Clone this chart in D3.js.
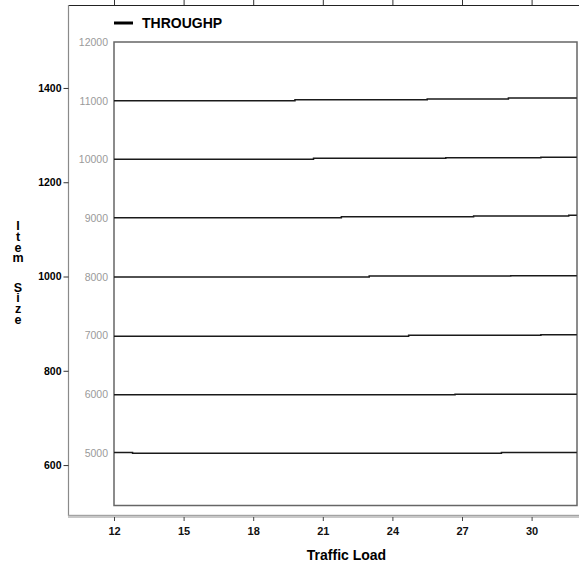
<!DOCTYPE html>
<html>
<head>
<meta charset="utf-8">
<script src="https://cdn.jsdelivr.net/npm/d3@7"></script>
<style>
  html, body { margin: 0; padding: 0; background: #fff; }
  svg { display: block; font-family: "Liberation Sans", Arial, sans-serif; }
</style>
</head>
<body>
<svg id="chart" width="579" height="565"></svg>
<script>
// Traffic load ticks (x) and item size ticks (outer y)
const trafficTicks = [12, 15, 18, 21, 24, 27, 30];
const itemSizeTicks = [600, 800, 1000, 1200, 1400];
// Throughput contour levels (inner y labels)
const levelTicks = [5000, 6000, 7000, 8000, 9000, 10000, 11000, 12000];

// Each contour: [traffic load, throughput] breakpoints, held until the next one
const contour11000 = [[12, 11000], [19.8, 11015], [25.5, 11030], [29.0, 11045]];
const contour10000 = [[12, 10000], [20.6, 10017], [26.3, 10027], [30.4, 10034]];
const contour9000  = [[12, 9005], [21.8, 9022], [27.5, 9034], [31.6, 9046]];
const contour8000  = [[12, 7996], [23.0, 8013], [29.1, 8018]];
const contour7000  = [[12, 6986], [24.7, 7002], [30.4, 7012]];
const contour6000  = [[12, 5986], [26.7, 5997]];
const contour5000  = [[12, 5002], [12.8, 4992], [28.7, 5002]];
const contours = [contour11000, contour10000, contour9000, contour8000, contour7000, contour6000, contour5000];

const legendLabel = "THROUGHP";
const xTitle = "Traffic Load";
const yTitleWords = ["Item", "Size"];

const svg = d3.select("#chart");
const W = 579;
const fontFamily = "Liberation Sans, Arial, sans-serif";

// Scales
const x = d3.scaleLinear().domain([12, 32]).range([114, 578]);
const yInner = d3.scaleLinear().domain([4100, 12000]).range([505.5, 42]);
const yOuter = d3.scaleLinear().domain([493, 1576]).range([515.5, 5]);

// Outer frame: top rule, left rule, bottom band
svg.append("line").attr("x1", 68.5).attr("x2", W).attr("y1", 5.5).attr("y2", 5.5)
  .attr("stroke", "#222").attr("stroke-width", 1);
svg.append("line").attr("x1", 68.5).attr("x2", 68.5).attr("y1", 5).attr("y2", 516)
  .attr("stroke", "#8a8a8a").attr("stroke-width", 1.2);
svg.append("line").attr("x1", 68).attr("x2", W).attr("y1", 516.5).attr("y2", 516.5)
  .attr("stroke", "#c8c8c8").attr("stroke-width", 3);
svg.append("line").attr("x1", 68).attr("x2", W).attr("y1", 515.3).attr("y2", 515.3)
  .attr("stroke", "#9a9a9a").attr("stroke-width", 1);

// Top ticks
const topAxis = svg.append("g").attr("transform", "translate(0,5)")
  .call(d3.axisTop(x).tickValues(trafficTicks).tickSize(5).tickFormat(""));
topAxis.select(".domain").remove();
topAxis.selectAll(".tick line").attr("stroke", "#333");

// Bottom axis
const bottomAxis = svg.append("g").attr("transform", "translate(0,517)")
  .call(d3.axisBottom(x).tickValues(trafficTicks).tickSize(4).tickPadding(6));
bottomAxis.select(".domain").remove();
bottomAxis.selectAll(".tick line").attr("stroke", "#444");
bottomAxis.selectAll(".tick text")
  .attr("font-size", 11).attr("font-weight", "bold").attr("fill", "#111")
  .attr("font-family", fontFamily);

// Outer left axis (item size)
const leftAxis = svg.append("g").attr("transform", "translate(68.5,0)")
  .call(d3.axisLeft(yOuter).tickValues(itemSizeTicks).tickSize(5).tickPadding(2)
    .tickFormat(d3.format("d")));
leftAxis.select(".domain").remove();
leftAxis.selectAll(".tick line").attr("stroke", "#333");
leftAxis.selectAll(".tick text")
  .attr("font-size", 10.5).attr("fill", "#000").attr("font-weight", 600)
  .attr("font-family", fontFamily);

// Inner level labels
const innerAxis = svg.append("g").attr("transform", "translate(114,0)")
  .call(d3.axisLeft(yInner).tickValues(levelTicks).tickSize(0).tickPadding(6)
    .tickFormat(d3.format("d")));
innerAxis.select(".domain").remove();
innerAxis.selectAll(".tick text")
  .attr("font-size", 10.5).attr("fill", "#9a9a9a")
  .attr("font-family", fontFamily);

// Inner plot box
svg.append("rect")
  .attr("x", x(12)).attr("y", yInner(12000))
  .attr("width", x(32) - x(12) - 1).attr("height", yInner(4100) - yInner(12000))
  .attr("fill", "none").attr("stroke", "#666").attr("stroke-width", 1.5);

// Contour lines
const line = d3.line()
  .x(d => x(d[0]))
  .y(d => yInner(d[1]))
  .curve(d3.curveStepAfter);

svg.append("g").selectAll("path")
  .data(contours)
  .join("path")
  .attr("d", d => line(d.concat([[31.95, d[d.length - 1][1]]])))
  .attr("fill", "none")
  .attr("stroke", "#1a1a1a")
  .attr("stroke-width", 1.5);

// Legend
svg.append("line").attr("x1", 114).attr("x2", 133).attr("y1", 23).attr("y2", 23)
  .attr("stroke", "#000").attr("stroke-width", 3);
svg.append("text").attr("x", 142).attr("y", 28)
  .attr("font-size", 14).attr("font-weight", "bold").attr("fill", "#000")
  .text(legendLabel);

// Axis titles
svg.append("text").attr("x", 346.5).attr("y", 560)
  .attr("text-anchor", "middle")
  .attr("font-size", 14).attr("font-weight", "bold").attr("fill", "#000")
  .text(xTitle);

// Vertical stacked title, one upright column per word
const yTitleTops = [219, 280.5];
yTitleWords.forEach((word, i) => {
  svg.append("text")
    .attr("x", 18).attr("y", yTitleTops[i])
    .style("writing-mode", "vertical-rl")
    .style("text-orientation", "upright")
    .attr("letter-spacing", -3.2)
    .attr("font-size", 12.5).attr("font-weight", "bold").attr("fill", "#000")
    .text(word);
});
</script>
</body>
</html>
